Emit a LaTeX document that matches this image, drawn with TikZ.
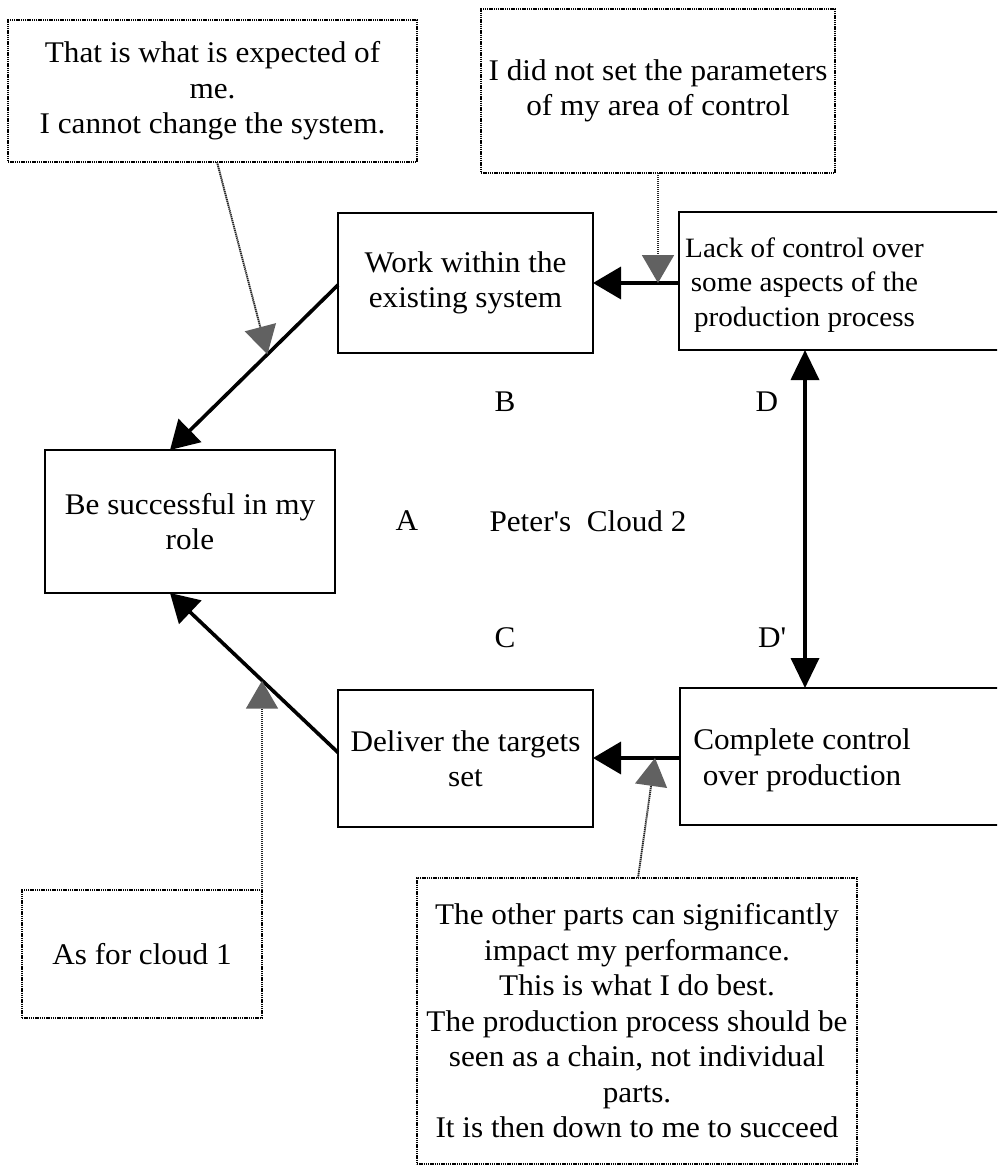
\documentclass[tikz,border=0pt]{standalone}
\usepackage{fontspec}
\setmainfont{Liberation Serif}[FakeStretch=1.04]
\usetikzlibrary{arrows.meta,calc}

\tikzset{
  txt/.style={font=\fontsize{30}{35.5}\selectfont, align=center, inner sep=0pt},
  smalltxt/.style={font=\fontsize{28}{34.5}\selectfont, align=center, inner sep=0pt},
  box/.style={draw, line width=2.8pt, inner sep=0pt, outer sep=0pt, txt},
  note/.style={draw, line width=2.1pt, dash pattern=on 1.4pt off 0.8pt,
               inner sep=0pt, outer sep=0pt, txt},
  link/.style={line width=3.6pt, -{Triangle[length=28pt,width=32pt]}},
  biglink/.style={line width=3.6pt, {Triangle[length=30pt,width=28pt]}-{Triangle[length=30pt,width=28pt]}},
  hint/.style={line width=1.9pt, dash pattern=on 1.3pt off 0.7pt, draw=black!85,
               -{Triangle[length=28pt,width=32pt,fill=black!62,color=black!62]}},
  tag/.style={font=\fontsize{30}{35.5}\selectfont, inner sep=0pt}
}

\begin{document}
\begin{tikzpicture}[x=1pt,y=-1pt]
\useasboundingbox (0,0) rectangle (997,1167);
\clip (0,0) rectangle (997,1167);

% main boxes
\node[box, minimum width=255pt, minimum height=140pt] (work) at (465.5,283)
  {Work within the\\existing system};
\node[box, minimum width=331pt, minimum height=138pt,
  label={[smalltxt, xshift=-40pt, yshift=-4pt]center:Lack of control over\\some aspects of the\\production process}]
  (lack) at (844.5,281) {};
\node[box, minimum width=290pt, minimum height=143pt] (succ) at (190,521.5)
  {Be successful in my\\role};
\node[box, minimum width=255pt, minimum height=137pt] (deliver) at (465.5,758.5)
  {Deliver the targets\\set};
\node[box, minimum width=330pt, minimum height=137pt,
  label={[txt, xshift=-43pt, yshift=-4pt]center:Complete control\\over production}]
  (complete) at (845,756.5) {};

% assumption notes
\node[note, minimum width=409pt, minimum height=142pt] (noteB) at (212.5,91)
  {That is what is expected of\\me.\\I cannot change the system.};
\node[note, minimum width=354pt, minimum height=164pt] (noteD) at (658,91)
  {I did not set the parameters\\of my area of control};
\node[note, minimum width=240pt, minimum height=128pt] (noteC) at (142,954)
  {As for cloud 1};
\node[note, minimum width=440pt, minimum height=286pt] (noteDp) at (637,1021)
  {The other parts can significantly\\impact my performance.\\This is what I do best.\\The production process should be\\seen as a chain, not individual\\parts.\\It is then down to me to succeed};

% letters and title
\node[tag] (lB) at (505,402) {B};
\node[tag] (lD) at (767,402) {D};
\node[tag] (lA) at (407,521) {A};
\node[tag] (title) at (588,521) {Peter\textquotesingle s\ \ Cloud 2};
\node[tag] (lC) at (505,638) {C};
\node[tag] (lDp) at (772,638) {D\textquotesingle};

% cloud arrows
\coordinate (wS) at ([yshift=-2pt]work.west);
\coordinate (sN) at ([xshift=-20pt]succ.north);
\coordinate (dS) at ([yshift=6pt]deliver.west);
\coordinate (sS) at ([xshift=-20pt]succ.south);
\draw[link] (wS) -- (sN);
\draw[link] (dS) -- (sS);
\draw[link] ([yshift=-2pt]lack.west) -- ([yshift=-2pt]lack.west -| work.east);
\draw[link] ([yshift=-1.5pt]complete.west) -- ([yshift=-1.5pt]complete.west -| deliver.east);
\coordinate (dd) at ([xshift=-39.5pt]lack.south);
\draw[biglink] (dd) -- (dd |- complete.north);

% assumption links
\coordinate (pB) at ($(wS)!0.42!(sN)$);
\coordinate (pC) at ($(dS)!0.45!(sS)$);
\coordinate (pD) at ([yshift=-2pt]noteD.south |- lack.west);
\coordinate (pDp) at ([xshift=18pt,yshift=-1.5pt]noteDp.north |- complete.west);
\draw[hint] ([xshift=4.5pt]noteB.south) -- (pB);
\draw[hint] (noteD.south) -- (pD);
\draw[hint] ([xshift=1pt]noteDp.north) -- (pDp);
\draw[hint] (noteC.north east) -- (noteC.north east |- pC);
\end{tikzpicture}
\end{document}
